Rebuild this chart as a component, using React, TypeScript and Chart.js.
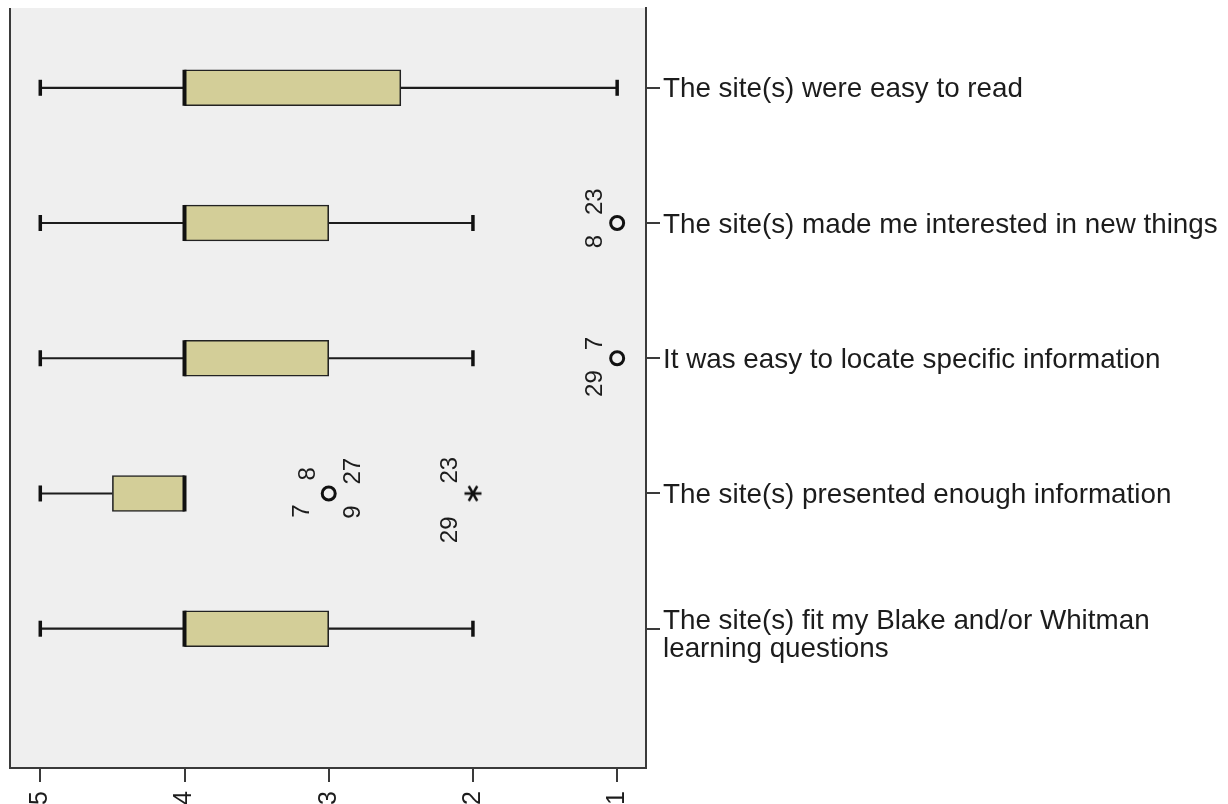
import React, { useEffect, useRef } from 'react';
import { Chart, registerables } from 'chart.js';

Chart.register(...registerables);

// ---- data ----
const categories: string[][] = [
  ['The site(s) were easy to read'],
  ['The site(s) made me interested in new things'],
  ['It was easy to locate specific information'],
  ['The site(s) presented enough information'],
  ['The site(s) fit my Blake and/or Whitman', 'learning questions'],
];
const whiskerHigh = [5, 5, 5, 5, 5];
const upperQuartile = [4, 4, 4, 4.5, 4];
const medians = [4, 4, 4, 4, 4];
const lowerQuartile = [2.5, 3, 3, 4, 3];
const whiskerLow = [1, 2, 2, 4, 2];

const outlierCats = [1, 2, 3];
const outlierValues = [1, 1, 3];
const outlierIds = [['23', '8'], ['7', '29'], ['8', '7', '27', '9']];

const extremeCats = [3];
const extremeValues = [2];
const extremeIds = [['23', '29']];

const xTickValues = [1, 2, 3, 4, 5];

const FONT = '"Liberation Sans", Arial, Helvetica, sans-serif';
const INK = '#1c1c1c';

function makeAsterisk(): HTMLCanvasElement {
  const c = document.createElement('canvas');
  c.width = 22;
  c.height = 22;
  const g = c.getContext('2d')!;
  g.strokeStyle = '#111111';
  g.lineWidth = 2.6;
  g.lineCap = 'butt';
  const r = 8.5;
  [0, 60, 120].forEach((deg) => {
    const a = (deg * Math.PI) / 180;
    g.beginPath();
    g.moveTo(11 - Math.cos(a) * r, 11 - Math.sin(a) * r);
    g.lineTo(11 + Math.cos(a) * r, 11 + Math.sin(a) * r);
    g.stroke();
  });
  return c;
}

const bgPlugin = {
  id: 'plotBg',
  beforeDraw(chart: any) {
    const { ctx, chartArea } = chart;
    ctx.save();
    ctx.fillStyle = '#efefef';
    ctx.fillRect(chartArea.left, chartArea.top, chartArea.right - chartArea.left, chartArea.bottom - chartArea.top);
    ctx.restore();
  },
  afterDraw(chart: any) {
    const { ctx, chartArea } = chart;
    ctx.save();
    ctx.strokeStyle = '#3a3a3a';
    ctx.lineWidth = 2;
    ctx.beginPath();
    ctx.moveTo(chartArea.left, chartArea.top);
    ctx.lineTo(chartArea.left, chartArea.bottom + 1);
    ctx.stroke();
    ctx.restore();
  },
};

const labelPlugin = {
  id: 'textLabels',
  afterDraw(chart: any) {
    const { ctx, chartArea } = chart;
    const xs = chart.scales.x;
    const ys = chart.scales.y;
    ctx.save();
    ctx.fillStyle = INK;
    ctx.font = `27.8px ${FONT}`;
    ctx.textAlign = 'left';
    ctx.textBaseline = 'middle';
    categories.forEach((lines, i) => {
      const py = ys.getPixelForValue(i);
      const lx = chartArea.right + 17;
      if (lines.length === 1) {
        ctx.fillText(lines[0], lx, py + 2);
      } else {
        lines.forEach((l, k) => ctx.fillText(l, lx, py - 7 + k * 28));
      }
    });

    ctx.font = `24px ${FONT}`;
    const drawRot = (text: string, px: number, py: number, align: CanvasTextAlign) => {
      ctx.save();
      ctx.translate(px, py);
      ctx.rotate(-Math.PI / 2);
      ctx.textAlign = align;
      ctx.textBaseline = 'middle';
      ctx.fillText(text, 0, 0);
      ctx.restore();
    };
    const slots2 = [
      { dx: -22, dy: -8, a: 'left' as CanvasTextAlign },
      { dx: -22, dy: 12, a: 'right' as CanvasTextAlign },
    ];
    const slots4 = [
      { dx: -20, dy: -13, a: 'left' as CanvasTextAlign },
      { dx: -26, dy: 11, a: 'right' as CanvasTextAlign },
      { dx: 25, dy: -9, a: 'left' as CanvasTextAlign },
      { dx: 25, dy: 12, a: 'right' as CanvasTextAlign },
    ];
    const slotsStar = [
      { dx: -23, dy: -10, a: 'left' as CanvasTextAlign },
      { dx: -23, dy: 23, a: 'right' as CanvasTextAlign },
    ];
    outlierCats.forEach((c, k) => {
      const px = xs.getPixelForValue(outlierValues[k]);
      const py = ys.getPixelForValue(c);
      const ids = outlierIds[k];
      const slots = ids.length > 2 ? slots4 : slots2;
      ids.forEach((id, j) => drawRot(id, px + slots[j].dx, py + slots[j].dy, slots[j].a));
    });
    extremeCats.forEach((c, k) => {
      const px = xs.getPixelForValue(extremeValues[k]);
      const py = ys.getPixelForValue(c);
      extremeIds[k].forEach((id, j) => drawRot(id, px + slotsStar[j].dx, py + slotsStar[j].dy, slotsStar[j].a));
    });
    ctx.restore();
  },
};

export default function App() {
  const ref = useRef<HTMLCanvasElement | null>(null);

  useEffect(() => {
    document.body.style.margin = '0';
    const canvas = ref.current;
    if (!canvas) return;

    const whiskerData: any[] = [];
    const capData: any[] = [];
    categories.forEach((_, i) => {
      whiskerData.push({ x: whiskerHigh[i], y: i }, { x: upperQuartile[i], y: i }, { x: NaN, y: null });
      capData.push({ x: whiskerHigh[i], y: i });
      if (whiskerLow[i] < lowerQuartile[i]) {
        whiskerData.push({ x: lowerQuartile[i], y: i }, { x: whiskerLow[i], y: i }, { x: NaN, y: null });
        capData.push({ x: whiskerLow[i], y: i });
      }
    });

    const chart = new Chart(canvas, {
      type: 'bar',
      data: {
        datasets: [
          {
            type: 'scatter',
            data: whiskerData,
            showLine: true,
            spanGaps: false,
            borderColor: INK,
            borderWidth: 2.2,
            pointRadius: 0,
            order: 5,
          } as any,
          {
            type: 'bar',
            indexAxis: 'y',
            data: categories.map((_, i) => ({ x: [lowerQuartile[i], upperQuartile[i]], y: i })),
            backgroundColor: '#d3ce98',
            borderColor: '#222222',
            borderWidth: 1.6,
            borderSkipped: false,
            barThickness: 36,
            order: 4,
          } as any,
          {
            type: 'scatter',
            data: medians.map((m, i) => ({ x: m, y: i })),
            pointStyle: 'line',
            rotation: 90,
            pointRadius: 18,
            borderColor: '#111111',
            borderWidth: 4,
            order: 3,
          } as any,
          {
            type: 'scatter',
            data: capData,
            pointStyle: 'line',
            rotation: 90,
            pointRadius: 8,
            borderColor: '#111111',
            borderWidth: 3.5,
            order: 2,
          } as any,
          {
            type: 'scatter',
            data: outlierCats.map((c, k) => ({ x: outlierValues[k], y: c })),
            pointStyle: 'circle',
            pointRadius: 6.5,
            backgroundColor: 'rgba(0,0,0,0)',
            borderColor: '#111111',
            borderWidth: 3,
            order: 1,
          } as any,
          {
            type: 'scatter',
            data: extremeCats.map((c, k) => ({ x: extremeValues[k], y: c })),
            pointStyle: makeAsterisk(),
            pointRadius: 9,
            order: 1,
          } as any,
        ],
      },
      options: {
        responsive: false,
        animation: false,
        layout: { autoPadding: false, padding: { left: 10, top: 8, right: 0, bottom: 0 } },
        plugins: { legend: { display: false }, tooltip: { enabled: false } },
        scales: {
          x: {
            type: 'linear',
            position: 'bottom',
            offset: false,
            min: 0.8,
            max: 5.21,
            reverse: true,
            afterBuildTicks: (scale: any) => {
              scale.ticks = xTickValues.map((v) => ({ value: v }));
            },
            afterFit: (scale: any) => {
              scale.height = 36;
              scale.paddingLeft = 0;
              scale.paddingRight = 0;
            },
            ticks: {
              minRotation: 90,
              maxRotation: 90,
              padding: 9,
              color: INK,
              font: { family: FONT, size: 25 },
              callback: (v: any) => String(v),
            },
            grid: {
              offset: false,
              drawOnChartArea: false,
              drawTicks: true,
              tickLength: 14,
              color: '#3a3a3a',
              lineWidth: 2,
            },
            border: { display: true, color: '#3a3a3a', width: 2 },
          },
          y: {
            type: 'linear',
            position: 'right',
            offset: false,
            beginAtZero: false,
            min: -0.59,
            max: 5.03,
            reverse: true,
            afterBuildTicks: (scale: any) => {
              scale.ticks = categories.map((_, i) => ({ value: i }));
            },
            afterFit: (scale: any) => {
              scale.width = 1228 - 646;
              scale.paddingTop = 0;
              scale.paddingBottom = 0;
            },
            ticks: {
              display: false,
            },
            grid: {
              offset: false,
              drawOnChartArea: false,
              drawTicks: true,
              tickLength: 14,
              color: '#3a3a3a',
              lineWidth: 2,
            },
            border: { display: true, color: '#3a3a3a', width: 2 },
          },
        },
      } as any,
      plugins: [bgPlugin, labelPlugin],
    });

    return () => chart.destroy();
  }, []);

  return (
    <canvas
      ref={ref}
      width={1228}
      height={804}
      style={{ display: 'block', width: 1228, height: 804 }}
    />
  );
}
